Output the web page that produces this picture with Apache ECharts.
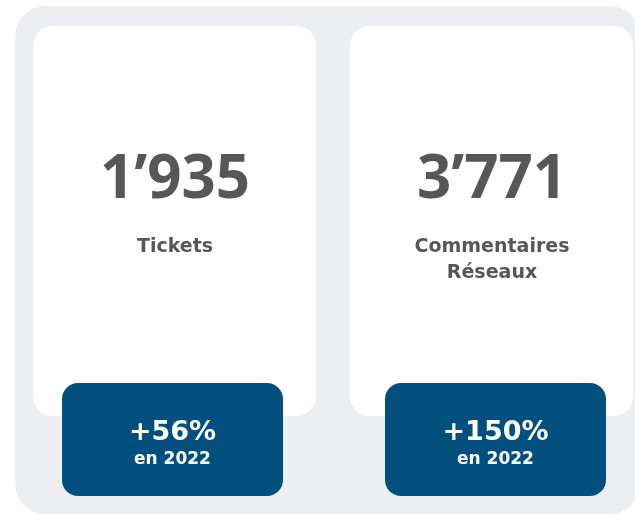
<!DOCTYPE html>
<html>
<head>
<meta charset="utf-8">
<script src="https://cdn.jsdelivr.net/npm/echarts@6/dist/echarts.min.js"></script>
<style>
  html, body { margin: 0; padding: 0; background: #fff; }
  #main { width: 635px; height: 516px; }
</style>
</head>
<body>
<div id="main"></div>
<script>
"use strict";

// kpi data
var labels  = ['Tickets', 'Commentaires\nRéseaux'];
var totals  = [1935, 3771];
var growth  = [56, 150];
var year    = 2022;

var BIG_FONT = '"Open Sans", sans-serif';
var FONT = '"DejaVu Sans", sans-serif';
var GREY = '#575757';
var BLUE = '#03507f';

function fmt(n) {
    // swiss style thousands separator
    return String(n).replace(/\B(?=(\d{3})+(?!\d))/g, '\u2019');
}

var chart = echarts.init(document.getElementById('main'));

var elements = [{
    type: 'rect',
    shape: { x: 15, y: 6, width: 625, height: 508, r: 30 },
    style: { fill: '#eceef2' }
}];

// card geometry: left edge of white card / blue box
var cardX = [33, 350];
var boxX  = [62, 385];

totals.forEach(function(v, i) {
    var cx = cardX[i] + 142;
    var bx = boxX[i] + 110.5;
    elements.push({
        type: 'rect',
        shape: { x: cardX[i], y: 26, width: 283, height: 390, r: 20 },
        style: { fill: '#ffffff' }
    });
    elements.push({
        type: 'text',
        x: cx, y: 181,
        style: {
            text: fmt(v), fill: GREY, font: 'bold 60px ' + BIG_FONT,
            align: 'center', verticalAlign: 'middle'
        }
    });
    elements.push({
        type: 'text',
        x: cx, y: 234,
        style: {
            text: labels[i], fill: GREY, font: 'bold 19px ' + FONT,
            align: 'center', verticalAlign: 'top', lineHeight: 26
        }
    });
    elements.push({
        type: 'rect',
        shape: { x: boxX[i], y: 383, width: 221, height: 113, r: 16 },
        style: { fill: BLUE }
    });
    elements.push({
        type: 'text',
        x: bx, y: 433,
        style: {
            text: '+' + growth[i] + '%', fill: '#ffffff', font: 'bold 27px ' + FONT,
            align: 'center', verticalAlign: 'middle'
        }
    });
    elements.push({
        type: 'text',
        x: bx, y: 460,
        style: {
            text: 'en ' + year, fill: '#ffffff', font: 'bold 17px ' + FONT,
            align: 'center', verticalAlign: 'middle'
        }
    });
});

chart.setOption({
    animation: false,
    graphic: { elements: elements }
});

window.onresize = function() {
    chart.resize();
};
</script>
</body>
</html>
